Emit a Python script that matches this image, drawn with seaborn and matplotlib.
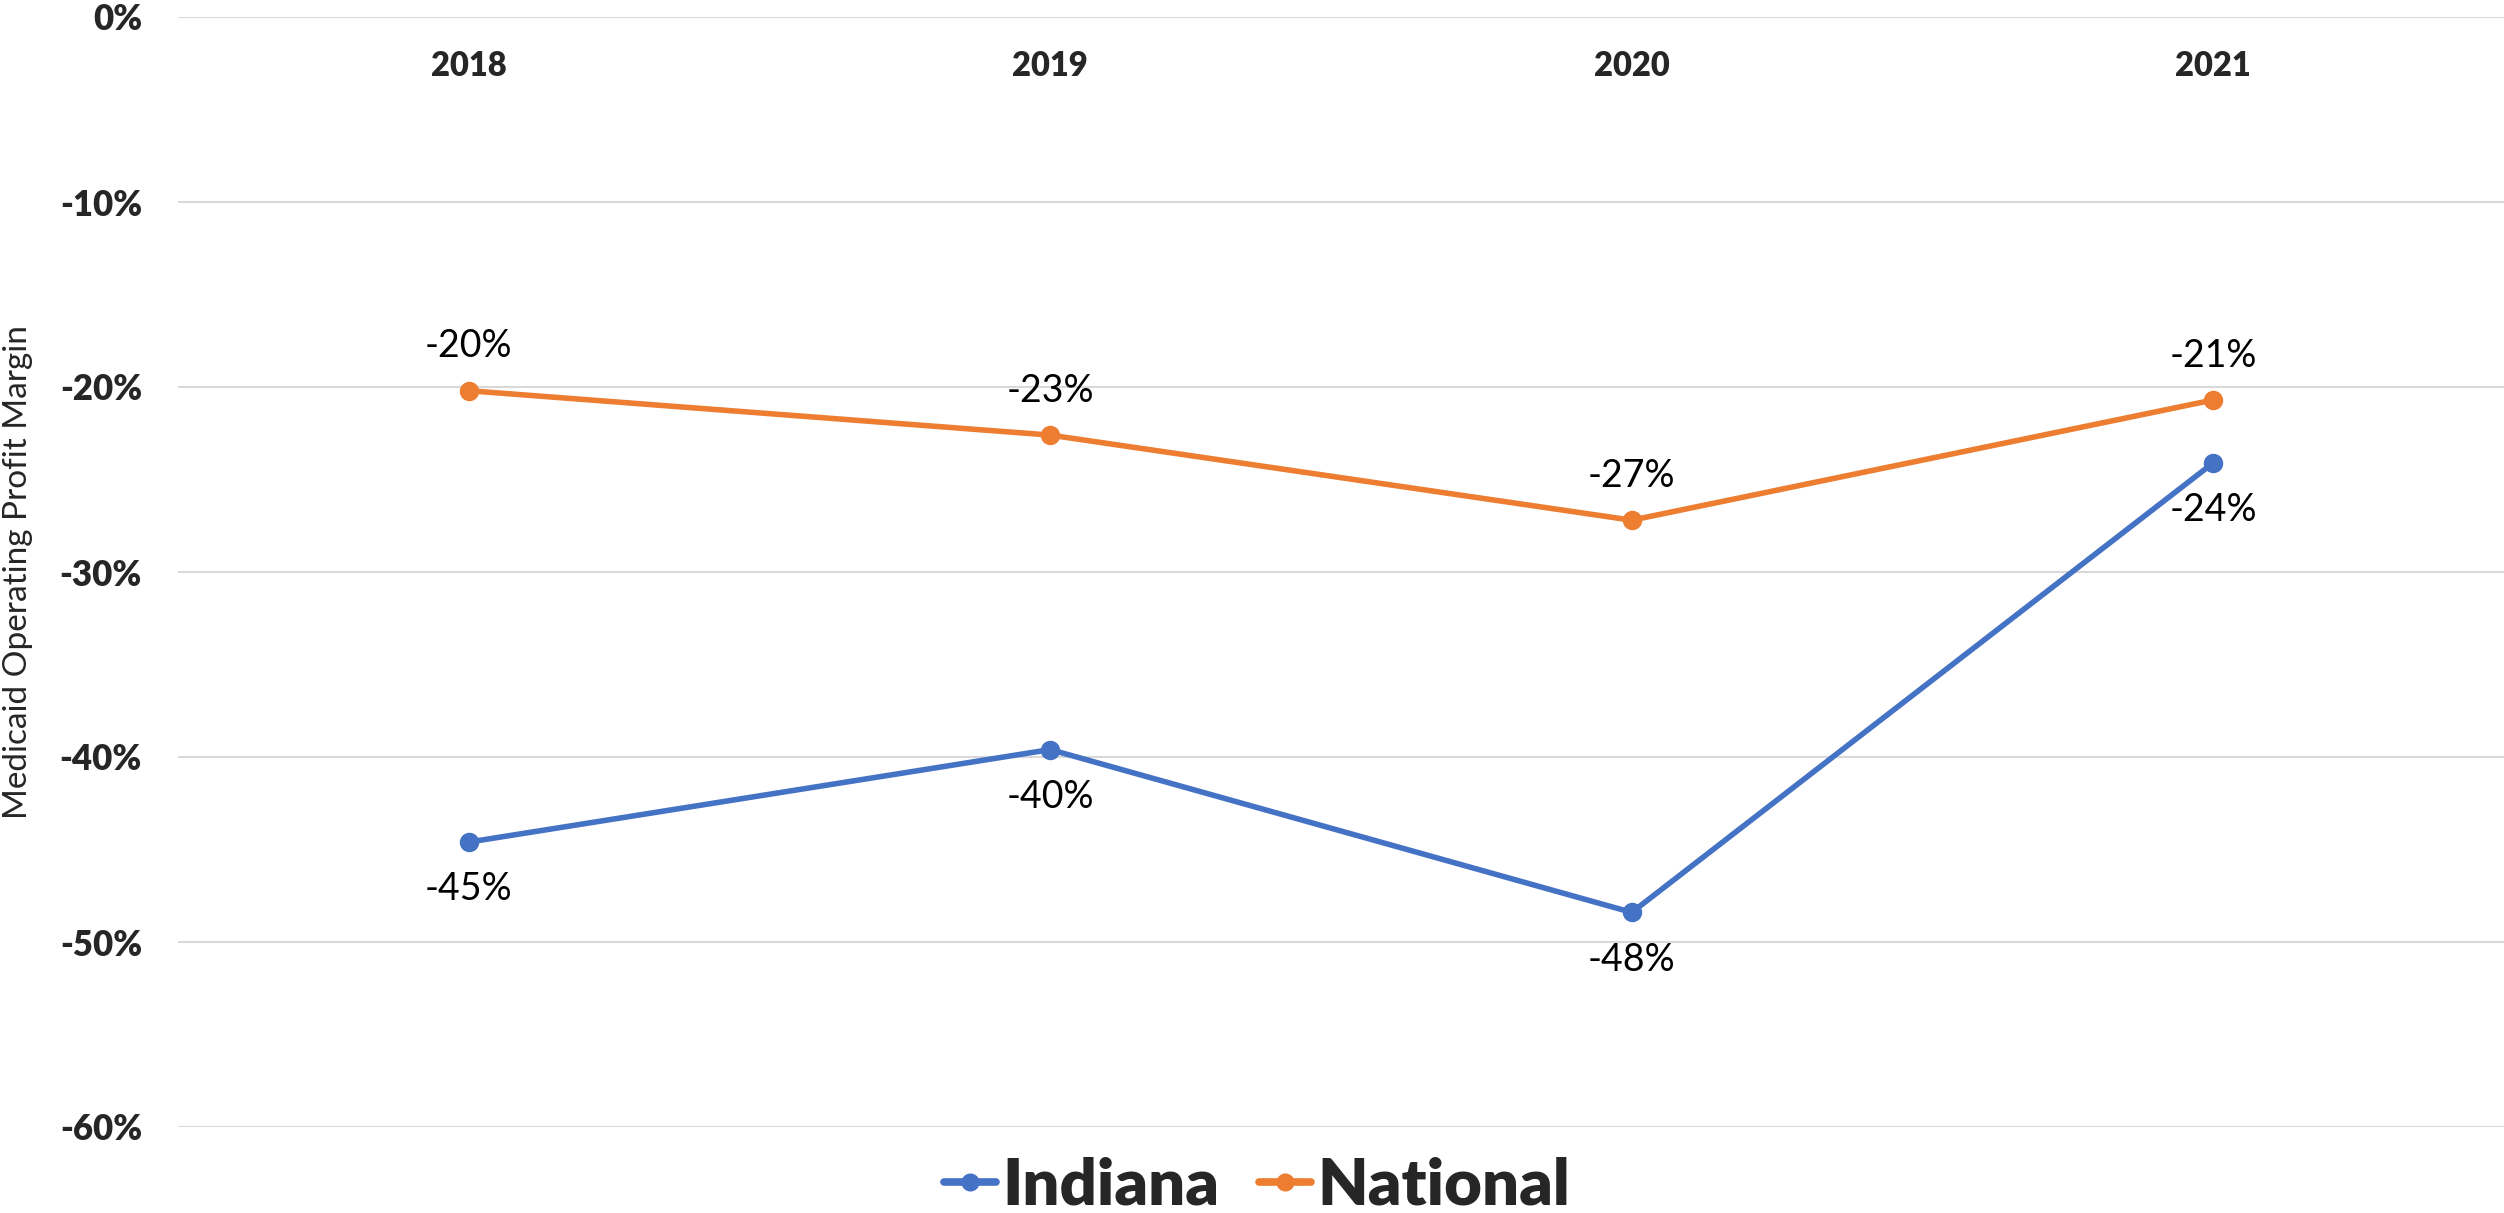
import matplotlib
matplotlib.use("Agg")
import matplotlib.pyplot as plt
from matplotlib.lines import Line2D
from matplotlib.ticker import FuncFormatter
import seaborn as sns
import pandas as pd

# ---- data ----
years = ["2018", "2019", "2020", "2021"]
indiana = [-0.446, -0.396, -0.484, -0.241]
national = [-0.202, -0.226, -0.272, -0.207]
series_names = ["Indiana", "National"]
colors = ["#4472C4", "#ED7D31"]
y_ticks = [0.0, -0.1, -0.2, -0.3, -0.4, -0.5, -0.6]
y_label = "Medicaid Operating Profit Margin"

df = pd.DataFrame({
    "Year": years * 2,
    "Margin": indiana + national,
    "Region": [series_names[0]] * len(years) + [series_names[1]] * len(years),
})

sns.set_theme(style="white")
plt.rcParams["font.family"] = ["Lato", "DejaVu Sans"]

W, H = 2504, 1213
fig = plt.figure(figsize=(W / 100, H / 100), dpi=100)
left, right, top, bottom = 178, 2504, 17, 1127
ax = fig.add_axes([left / W, 1 - bottom / H, (right - left) / W, (bottom - top) / H])

sns.pointplot(data=df, x="Year", y="Margin", hue="Region", order=years,
              hue_order=series_names, palette=colors, markers="o",
              markersize=11, linewidth=4, errorbar=None, ax=ax, legend=False)
for ln in ax.lines:
    ln.set_linewidth(4)
    ln.set_markersize(11)

ax.set_xlim(-0.5, len(years) - 0.5)
ax.set_ylim(min(y_ticks), max(y_ticks))
ax.set_yticks(y_ticks)
ax.yaxis.set_major_formatter(FuncFormatter(lambda v, p: f"{int(round(v * 100))}%"))
ax.grid(axis="y", color="#D9D9D9", linewidth=1.5)
ax.grid(axis="x", visible=False)
ax.set_axisbelow(True)
for s in ax.spines.values():
    s.set_visible(False)

ax.tick_params(axis="y", length=0, pad=26, labelsize=25)
for lab in ax.get_yticklabels():
    lab.set_fontweight("heavy")

ax.xaxis.tick_top()
ax.tick_params(axis="x", length=0, pad=-47, labelsize=23.5, labeltop=True, labelbottom=False)
for lab in ax.get_xticklabels():
    lab.set_fontweight("heavy")
ax.set_xlabel("")

ax.set_ylabel(y_label, fontsize=24)
ax.yaxis.set_label_coords(-0.0623, 0.5)

# data labels
for i, (vi, vn) in enumerate(zip(indiana, national)):
    ax.annotate(f"{int(round(vn * 100))}%", (i, vn), xytext=(0, 32), textcoords="offset points",
                ha="center", va="center", fontsize=27, color="black")
    ax.annotate(f"{int(round(vi * 100))}%", (i, vi), xytext=(0, -34), textcoords="offset points",
                ha="center", va="center", fontsize=27, color="black")

handles = [Line2D([], [], color=c, lw=5.5, marker="o", markersize=12) for c in colors]
fig.legend(handles, series_names, loc="center", bbox_to_anchor=(1257 / W, 1 - 1186 / H),
           ncol=2, frameon=False, prop={"weight": "heavy", "size": 47},
           handlelength=0.8, handletextpad=0.1, columnspacing=0.6,
           borderpad=0.1)

fig.savefig("out.png", dpi=100)
